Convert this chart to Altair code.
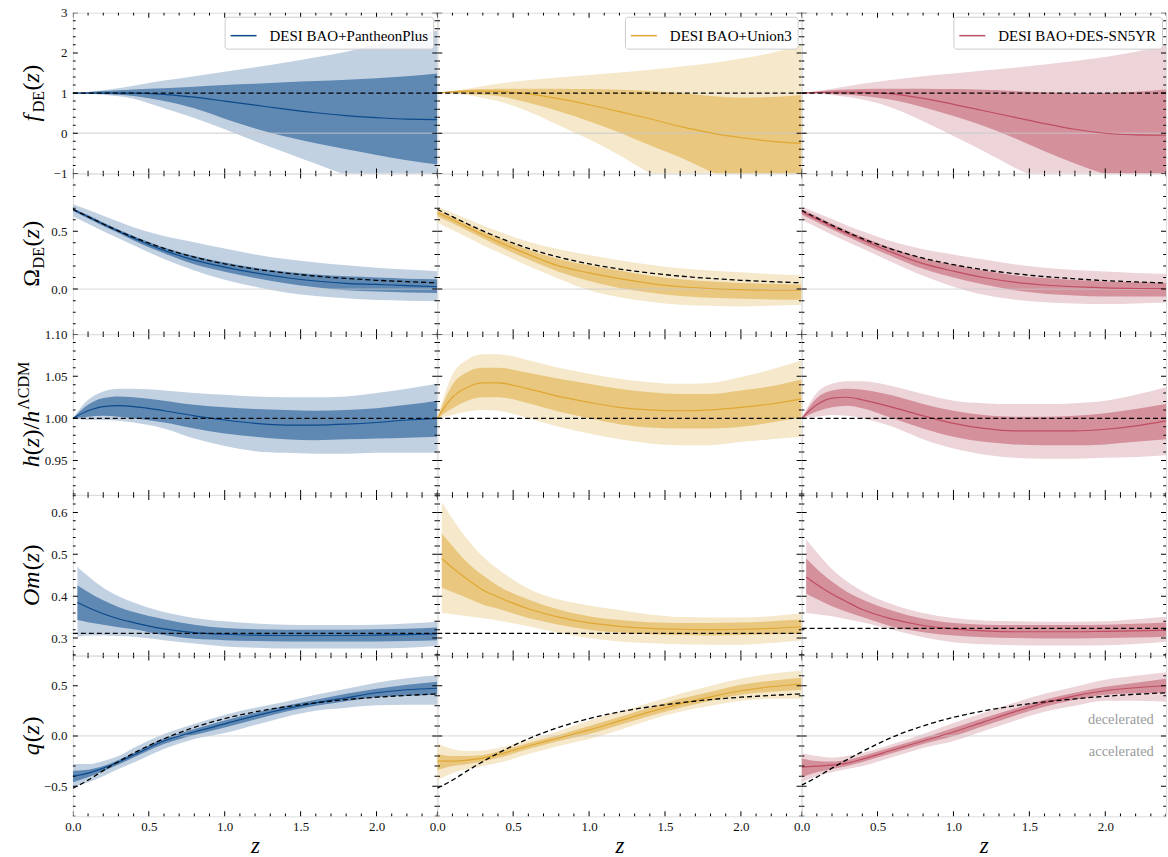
import math
import altair as alt
import pandas as pd

FONT = "Liberation Serif"
W, H = 365, 161

# ---------------- data ----------------
Z = [0.0, 0.1, 0.2, 0.3, 0.4, 0.6, 0.8, 1.0, 1.2, 1.4, 1.6, 1.8, 2.0, 2.2, 2.4]
Z_OM = [0.03, 0.1, 0.2, 0.3, 0.4, 0.6, 0.8, 1.0, 1.2, 1.4, 1.6, 1.8, 2.0, 2.2, 2.4]

DATASETS = ["DESI BAO+PantheonPlus", "DESI BAO+Union3", "DESI BAO+DES-SN5YR"]
LINE_COLORS = ["#0d4a8c", "#e0a733", "#bf4d63"]
DARK_COLORS = ["#5f88b3", "#e9c77e", "#d4909b"]
LIGHT_COLORS = ["#c2d1e2", "#f5e8cb", "#ecd4d9"]

# f_DE(z)
FDE_PP_HI2 = [1.0, 1.03, 1.07, 1.12, 1.18, 1.31, 1.42, 1.53, 1.64, 1.76, 1.89, 2.03, 2.2, 2.37, 2.56]
FDE_PP_HI1 = [1.0, 1.02, 1.05, 1.07, 1.09, 1.12, 1.16, 1.2, 1.23, 1.27, 1.3, 1.33, 1.37, 1.42, 1.49]
FDE_PP_MED = [1.0, 1.0, 1.0, 1.0, 1.0, 0.97, 0.9, 0.8, 0.7, 0.6, 0.51, 0.44, 0.39, 0.35, 0.34]
FDE_PP_LO1 = [1.0, 0.995, 0.98, 0.96, 0.925, 0.8, 0.62, 0.36, 0.12, -0.08, -0.25, -0.4, -0.54, -0.67, -0.78]
FDE_PP_LO2 = [1.0, 0.985, 0.96, 0.92, 0.86, 0.62, 0.38, 0.1, -0.2, -0.48, -0.76, -1.04, -1.3, -1.55, -1.8]

FDE_U3_HI2 = [1.0, 1.05, 1.11, 1.17, 1.23, 1.32, 1.39, 1.45, 1.51, 1.58, 1.66, 1.74, 1.86, 2.0, 2.19]
FDE_U3_HI1 = [1.0, 1.05, 1.08, 1.1, 1.11, 1.11, 1.11, 1.1, 1.08, 1.05, 1.0, 0.93, 0.89, 0.9, 0.95]
FDE_U3_MED = [1.0, 1.03, 1.05, 1.05, 1.04, 0.98, 0.86, 0.71, 0.54, 0.36, 0.17, 0.01, -0.11, -0.2, -0.25]
FDE_U3_LO1 = [1.0, 1.0, 0.98, 0.96, 0.93, 0.76, 0.55, 0.3, 0.02, -0.3, -0.6, -0.95, -1.25, -1.5, -1.75]
FDE_U3_LO2 = [1.0, 0.985, 0.95, 0.88, 0.8, 0.54, 0.2, -0.15, -0.55, -1.0, -1.45, -1.85, -2.2, -2.5, -2.8]

FDE_DES_HI2 = [1.0, 1.05, 1.11, 1.17, 1.23, 1.33, 1.42, 1.49, 1.56, 1.63, 1.71, 1.8, 1.9, 2.03, 2.19]
FDE_DES_HI1 = [1.0, 1.04, 1.07, 1.09, 1.1, 1.11, 1.11, 1.1, 1.08, 1.05, 1.02, 1.0, 1.0, 1.03, 1.09]
FDE_DES_MED = [1.0, 1.01, 1.02, 1.02, 1.02, 0.98, 0.87, 0.72, 0.56, 0.4, 0.24, 0.1, 0.0, -0.04, -0.05]
FDE_DES_LO1 = [1.0, 1.0, 0.98, 0.96, 0.93, 0.83, 0.65, 0.43, 0.18, -0.12, -0.45, -0.75, -1.02, -1.25, -1.45]
FDE_DES_LO2 = [1.0, 0.99, 0.95, 0.9, 0.84, 0.63, 0.3, -0.07, -0.45, -0.85, -1.2, -1.55, -1.9, -2.2, -2.5]

# Omega_DE(z)
ODE_PP_HI2 = [0.735, 0.685, 0.635, 0.585, 0.535, 0.46, 0.405, 0.35, 0.3, 0.26, 0.23, 0.205, 0.185, 0.17, 0.155]
ODE_PP_HI1 = [0.70, 0.64, 0.575, 0.515, 0.46, 0.36, 0.285, 0.23, 0.185, 0.15, 0.125, 0.11, 0.1, 0.09, 0.085]
ODE_PP_MED = [0.69, 0.625, 0.56, 0.5, 0.44, 0.335, 0.25, 0.19, 0.14, 0.1, 0.07, 0.05, 0.04, 0.03, 0.02]
ODE_PP_LO1 = [0.675, 0.61, 0.545, 0.485, 0.42, 0.31, 0.215, 0.15, 0.095, 0.05, 0.015, -0.01, -0.02, -0.03, -0.035]
ODE_PP_LO2 = [0.63, 0.565, 0.5, 0.44, 0.38, 0.26, 0.16, 0.08, 0.02, -0.03, -0.06, -0.08, -0.095, -0.1, -0.105]

ODE_U3_HI2 = [0.715, 0.66, 0.605, 0.55, 0.5, 0.41, 0.345, 0.295, 0.25, 0.21, 0.18, 0.16, 0.145, 0.13, 0.118]
ODE_U3_HI1 = [0.68, 0.625, 0.56, 0.5, 0.445, 0.34, 0.26, 0.205, 0.16, 0.115, 0.085, 0.065, 0.052, 0.045, 0.038]
ODE_U3_MED = [0.66, 0.6, 0.535, 0.47, 0.41, 0.3, 0.2, 0.14, 0.09, 0.05, 0.02, 0.005, -0.005, -0.01, -0.01]
ODE_U3_LO1 = [0.63, 0.57, 0.505, 0.44, 0.375, 0.255, 0.15, 0.07, 0.01, -0.03, -0.06, -0.075, -0.084, -0.09, -0.092]
ODE_U3_LO2 = [0.575, 0.51, 0.445, 0.38, 0.32, 0.2, 0.09, -0.01, -0.07, -0.11, -0.135, -0.145, -0.15, -0.145, -0.136]

ODE_DES_HI2 = [0.715, 0.66, 0.605, 0.55, 0.5, 0.41, 0.345, 0.3, 0.255, 0.215, 0.185, 0.165, 0.153, 0.14, 0.13]
ODE_DES_HI1 = [0.69, 0.63, 0.565, 0.505, 0.45, 0.35, 0.265, 0.21, 0.16, 0.12, 0.095, 0.078, 0.066, 0.058, 0.052]
ODE_DES_MED = [0.67, 0.605, 0.54, 0.48, 0.425, 0.315, 0.22, 0.155, 0.1, 0.06, 0.035, 0.02, 0.01, 0.005, 0.003]
ODE_DES_LO1 = [0.645, 0.58, 0.515, 0.455, 0.395, 0.28, 0.175, 0.1, 0.04, -0.01, -0.04, -0.055, -0.064, -0.065, -0.064]
ODE_DES_LO2 = [0.6, 0.535, 0.47, 0.41, 0.35, 0.23, 0.115, 0.02, -0.05, -0.09, -0.115, -0.125, -0.13, -0.125, -0.116]

LCDM_ODE_A = [0.69, 0.626, 0.563, 0.503, 0.448, 0.352, 0.276, 0.218, 0.173, 0.139, 0.112, 0.092, 0.076, 0.064, 0.054]
LCDM_ODE_B = [0.68, 0.615, 0.552, 0.492, 0.437, 0.342, 0.268, 0.211, 0.167, 0.134, 0.108, 0.089, 0.073, 0.062, 0.052]

# h(z)/h_LCDM
H_PP_HI2 = [1.0, 1.022, 1.032, 1.035, 1.035, 1.033, 1.03, 1.028, 1.026, 1.025, 1.025, 1.026, 1.03, 1.035, 1.041]
H_PP_HI1 = [1.0, 1.016, 1.024, 1.026, 1.025, 1.021, 1.016, 1.013, 1.011, 1.01, 1.009, 1.01, 1.012, 1.016, 1.021]
H_PP_MED = [1.0, 1.009, 1.014, 1.015, 1.014, 1.009, 1.003, 0.998, 0.994, 0.992, 0.992, 0.993, 0.995, 0.998, 1.0]
H_PP_LO1 = [1.0, 1.002, 1.003, 1.002, 1.0, 0.995, 0.988, 0.982, 0.978, 0.975, 0.974, 0.975, 0.976, 0.977, 0.978]
H_PP_LO2 = [1.0, 0.998, 0.998, 0.997, 0.995, 0.988, 0.976, 0.967, 0.961, 0.959, 0.958, 0.958, 0.959, 0.959, 0.959]

H_U3_HI2 = [1.0, 1.052, 1.07, 1.076, 1.076, 1.069, 1.06, 1.053, 1.047, 1.043, 1.041, 1.042, 1.049, 1.058, 1.069]
H_U3_HI1 = [1.0, 1.04, 1.055, 1.06, 1.06, 1.054, 1.047, 1.041, 1.035, 1.031, 1.029, 1.029, 1.033, 1.038, 1.046]
H_U3_MED = [1.0, 1.025, 1.037, 1.042, 1.042, 1.035, 1.026, 1.019, 1.013, 1.01, 1.009, 1.01, 1.013, 1.017, 1.023]
H_U3_LO1 = [1.0, 1.012, 1.021, 1.025, 1.025, 1.018, 1.008, 1.0, 0.993, 0.989, 0.988, 0.988, 0.99, 0.995, 1.001]
H_U3_LO2 = [1.0, 1.004, 1.008, 1.01, 1.009, 1.0, 0.99, 0.982, 0.975, 0.97, 0.968, 0.968, 0.972, 0.975, 0.978]

H_DES_HI2 = [1.0, 1.03, 1.041, 1.044, 1.044, 1.038, 1.029, 1.021, 1.018, 1.017, 1.017, 1.018, 1.021, 1.028, 1.037]
H_DES_HI1 = [1.0, 1.024, 1.033, 1.035, 1.034, 1.027, 1.017, 1.009, 1.004, 1.002, 1.002, 1.003, 1.006, 1.011, 1.017]
H_DES_MED = [1.0, 1.016, 1.024, 1.025, 1.022, 1.013, 1.003, 0.994, 0.988, 0.985, 0.985, 0.985, 0.987, 0.991, 0.997]
H_DES_LO1 = [1.0, 1.008, 1.013, 1.015, 1.012, 1.0, 0.988, 0.978, 0.972, 0.969, 0.968, 0.968, 0.969, 0.972, 0.975]
H_DES_LO2 = [1.0, 1.002, 1.004, 1.003, 1.0, 0.99, 0.975, 0.964, 0.957, 0.953, 0.952, 0.952, 0.953, 0.954, 0.956]

# Om(z)
OM_PP_HI2 = [0.47, 0.448, 0.42, 0.4, 0.385, 0.362, 0.348, 0.34, 0.335, 0.332, 0.331, 0.331, 0.332, 0.335, 0.339]
OM_PP_HI1 = [0.426, 0.41, 0.39, 0.374, 0.362, 0.345, 0.332, 0.324, 0.321, 0.32, 0.32, 0.32, 0.321, 0.322, 0.325]
OM_PP_MED = [0.385, 0.373, 0.358, 0.346, 0.337, 0.322, 0.313, 0.309, 0.307, 0.306, 0.306, 0.306, 0.307, 0.308, 0.31]
OM_PP_LO1 = [0.343, 0.338, 0.332, 0.326, 0.321, 0.307, 0.298, 0.295, 0.293, 0.292, 0.292, 0.292, 0.292, 0.293, 0.295]
OM_PP_LO2 = [0.303, 0.306, 0.306, 0.305, 0.303, 0.295, 0.287, 0.28, 0.277, 0.275, 0.275, 0.275, 0.275, 0.277, 0.281]

OM_U3_HI2 = [0.625, 0.585, 0.535, 0.495, 0.465, 0.418, 0.392, 0.378, 0.367, 0.356, 0.35, 0.349, 0.349, 0.352, 0.359]
OM_U3_HI1 = [0.55, 0.52, 0.48, 0.45, 0.425, 0.392, 0.368, 0.352, 0.343, 0.338, 0.336, 0.336, 0.337, 0.34, 0.344]
OM_U3_MED = [0.49, 0.468, 0.44, 0.415, 0.398, 0.37, 0.35, 0.336, 0.328, 0.323, 0.321, 0.32, 0.321, 0.323, 0.327]
OM_U3_LO1 = [0.42, 0.41, 0.395, 0.38, 0.37, 0.348, 0.332, 0.32, 0.313, 0.309, 0.307, 0.306, 0.307, 0.309, 0.311]
OM_U3_LO2 = [0.36, 0.357, 0.352, 0.347, 0.342, 0.328, 0.312, 0.3, 0.292, 0.288, 0.285, 0.284, 0.284, 0.288, 0.295]

OM_DES_HI2 = [0.535, 0.505, 0.465, 0.435, 0.412, 0.38, 0.36, 0.348, 0.342, 0.34, 0.339, 0.339, 0.34, 0.345, 0.351]
OM_DES_HI1 = [0.49, 0.465, 0.435, 0.41, 0.392, 0.365, 0.346, 0.336, 0.332, 0.331, 0.331, 0.331, 0.332, 0.334, 0.337]
OM_DES_MED = [0.446, 0.428, 0.405, 0.386, 0.368, 0.345, 0.33, 0.322, 0.317, 0.315, 0.315, 0.315, 0.316, 0.317, 0.319]
OM_DES_LO1 = [0.406, 0.393, 0.376, 0.362, 0.35, 0.327, 0.314, 0.306, 0.302, 0.3, 0.299, 0.299, 0.3, 0.301, 0.303]
OM_DES_LO2 = [0.36, 0.357, 0.352, 0.345, 0.338, 0.32, 0.302, 0.29, 0.285, 0.283, 0.282, 0.282, 0.283, 0.286, 0.291]

LCDM_OM = [0.311, 0.311, 0.323]

# q(z)
Q_PP_HI2 = [-0.28, -0.28, -0.25, -0.2, -0.12, 0.02, 0.12, 0.21, 0.28, 0.34, 0.41, 0.47, 0.53, 0.575, 0.605]
Q_PP_HI1 = [-0.345, -0.335, -0.3, -0.24, -0.17, -0.025, 0.07, 0.155, 0.23, 0.3, 0.36, 0.42, 0.47, 0.51, 0.54]
Q_PP_MED = [-0.4, -0.37, -0.32, -0.26, -0.19, -0.05, 0.04, 0.12, 0.2, 0.27, 0.33, 0.38, 0.43, 0.46, 0.475]
Q_PP_LO1 = [-0.46, -0.41, -0.35, -0.285, -0.215, -0.08, 0.01, 0.085, 0.165, 0.24, 0.3, 0.345, 0.385, 0.4, 0.41]
Q_PP_LO2 = [-0.51, -0.46, -0.4, -0.33, -0.265, -0.13, -0.03, 0.03, 0.11, 0.19, 0.25, 0.28, 0.305, 0.31, 0.31]

Q_U3_HI2 = [-0.07, -0.13, -0.15, -0.145, -0.12, -0.04, 0.05, 0.155, 0.24, 0.33, 0.42, 0.5, 0.57, 0.62, 0.65]
Q_U3_HI1 = [-0.18, -0.2, -0.2, -0.19, -0.155, -0.07, 0.01, 0.1, 0.19, 0.28, 0.37, 0.44, 0.51, 0.55, 0.58]
Q_U3_MED = [-0.25, -0.25, -0.24, -0.22, -0.185, -0.1, -0.02, 0.06, 0.15, 0.24, 0.32, 0.39, 0.45, 0.49, 0.52]
Q_U3_LO1 = [-0.34, -0.3, -0.28, -0.255, -0.22, -0.13, -0.05, 0.02, 0.11, 0.2, 0.28, 0.35, 0.41, 0.44, 0.46]
Q_U3_LO2 = [-0.44, -0.37, -0.33, -0.3, -0.27, -0.18, -0.1, -0.03, 0.06, 0.16, 0.24, 0.3, 0.35, 0.37, 0.37]

Q_DES_HI2 = [-0.17, -0.2, -0.215, -0.2, -0.17, -0.08, 0.02, 0.13, 0.23, 0.33, 0.42, 0.49, 0.56, 0.6, 0.635]
Q_DES_HI1 = [-0.225, -0.25, -0.255, -0.24, -0.2, -0.11, -0.02, 0.08, 0.18, 0.27, 0.36, 0.43, 0.49, 0.53, 0.57]
Q_DES_MED = [-0.31, -0.3, -0.29, -0.27, -0.23, -0.14, -0.05, 0.04, 0.14, 0.24, 0.33, 0.4, 0.45, 0.48, 0.5]
Q_DES_LO1 = [-0.41, -0.36, -0.33, -0.3, -0.26, -0.17, -0.08, 0.0, 0.1, 0.2, 0.29, 0.36, 0.41, 0.425, 0.43]
Q_DES_LO2 = [-0.46, -0.4, -0.36, -0.33, -0.3, -0.21, -0.12, -0.05, 0.05, 0.15, 0.24, 0.3, 0.35, 0.35, 0.34]

LCDM_Q_A = [-0.52, -0.44, -0.345, -0.255, -0.172, -0.028, 0.086, 0.173, 0.24, 0.29, 0.33, 0.362, 0.386, 0.404, 0.419]
LCDM_Q_B = [-0.49, -0.41, -0.32, -0.235, -0.155, -0.01, 0.1, 0.185, 0.25, 0.3, 0.34, 0.37, 0.395, 0.415, 0.43]

LCDM_FDE = 1.0
LCDM_H = 1.0

ACCEL_TEXT = ["decelerated", "accelerated"]
ACCEL_Q = [0.155, -0.16]
ACCEL_Z = [2.32, 2.32]

# axis settings per row
ROW_DOMAINS = [[-1.0, 3.0], [-0.39, 1.0], [0.909, 1.10], [0.258, 0.642], [-0.8, 0.8]]
ROW_LABELS = [[-1, 0, 1, 2, 3], [0.0, 0.5], [0.95, 1.0, 1.05, 1.10], [0.3, 0.4, 0.5, 0.6], [-0.5, 0.0, 0.5]]
ROW_FORMATS = ["d", ".1f", ".2f", ".1f", ".1f"]
ROW_TICK_STEPS = [(0.2, 1.0), (0.1, 0.5), (0.01, 0.05), (0.02, 0.1), (0.1, 0.5)]
X_TICK_STEPS = (0.1, 0.5)
X_LABELS = [0.0, 0.5, 1.0, 1.5, 2.0]

SERIES = {
    (0, 0): (FDE_PP_LO2, FDE_PP_LO1, FDE_PP_MED, FDE_PP_HI1, FDE_PP_HI2),
    (0, 1): (FDE_U3_LO2, FDE_U3_LO1, FDE_U3_MED, FDE_U3_HI1, FDE_U3_HI2),
    (0, 2): (FDE_DES_LO2, FDE_DES_LO1, FDE_DES_MED, FDE_DES_HI1, FDE_DES_HI2),
    (1, 0): (ODE_PP_LO2, ODE_PP_LO1, ODE_PP_MED, ODE_PP_HI1, ODE_PP_HI2),
    (1, 1): (ODE_U3_LO2, ODE_U3_LO1, ODE_U3_MED, ODE_U3_HI1, ODE_U3_HI2),
    (1, 2): (ODE_DES_LO2, ODE_DES_LO1, ODE_DES_MED, ODE_DES_HI1, ODE_DES_HI2),
    (2, 0): (H_PP_LO2, H_PP_LO1, H_PP_MED, H_PP_HI1, H_PP_HI2),
    (2, 1): (H_U3_LO2, H_U3_LO1, H_U3_MED, H_U3_HI1, H_U3_HI2),
    (2, 2): (H_DES_LO2, H_DES_LO1, H_DES_MED, H_DES_HI1, H_DES_HI2),
    (3, 0): (OM_PP_LO2, OM_PP_LO1, OM_PP_MED, OM_PP_HI1, OM_PP_HI2),
    (3, 1): (OM_U3_LO2, OM_U3_LO1, OM_U3_MED, OM_U3_HI1, OM_U3_HI2),
    (3, 2): (OM_DES_LO2, OM_DES_LO1, OM_DES_MED, OM_DES_HI1, OM_DES_HI2),
    (4, 0): (Q_PP_LO2, Q_PP_LO1, Q_PP_MED, Q_PP_HI1, Q_PP_HI2),
    (4, 1): (Q_U3_LO2, Q_U3_LO1, Q_U3_MED, Q_U3_HI1, Q_U3_HI2),
    (4, 2): (Q_DES_LO2, Q_DES_LO1, Q_DES_MED, Q_DES_HI1, Q_DES_HI2),
}

# y-axis title pieces: (text, size, style, dy, gap_after)
TITLES = [
    [("f", 24, "italic", 0, 2.5), ("DE", 16, "normal", 5, 0.5), ("(", 24, "normal", 0, 0),
     ("z", 24, "italic", 0, 0.5), (")", 24, "normal", 0, 0)],
    [("Ω", 24, "normal", 0, 0), ("DE", 16, "normal", 5, 0.5), ("(", 24, "normal", 0, 0),
     ("z", 24, "italic", 0, 0.5), (")", 24, "normal", 0, 0)],
    [("h", 24, "italic", 0, 0), ("(", 24, "normal", 0, 0), ("z", 24, "italic", 0, 0.5),
     (")", 24, "normal", 0, 0), ("/", 24, "normal", 0, 0), ("h", 24, "italic", 0, 1),
     ("ΛCDM", 16, "normal", -10, 0)],
    [("Om", 24, "italic", 0, 1), ("(", 24, "normal", 0, 0), ("z", 24, "italic", 0, 0.5),
     (")", 24, "normal", 0, 0)],
    [("q", 24, "italic", 0, 1), ("(", 24, "normal", 0, 0), ("z", 24, "italic", 0, 0.5),
     (")", 24, "normal", 0, 0)],
]
CHAR_W = {"f": 0.278, "z": 0.389, "O": 0.722, "m": 0.722, "q": 0.5, "h": 0.5, "(": 0.333,
          ")": 0.333, "/": 0.278, "D": 0.722, "E": 0.611, "C": 0.667, "M": 0.889,
          "Ω": 0.768, "Λ": 0.722}


def tick_frame(lo, hi, step, major):
    vals, sizes = [], []
    n0 = math.ceil(lo / step - 1e-9)
    n1 = math.floor(hi / step + 1e-9)
    for n in range(n0, n1 + 1):
        v = round(n * step, 6)
        is_major = abs(v / major - round(v / major)) < 1e-6
        vals.append(v)
        sizes.append(10 if is_major else 5.5)
    return pd.DataFrame({"v": vals, "s": sizes})


def panel(r, c):
    zs = Z_OM if r == 3 else Z
    lo2, lo1, med, hi1, hi2 = SERIES[(r, c)]
    df = pd.DataFrame({"z": zs, "lo2": lo2, "lo1": lo1, "med": med, "hi1": hi1,
                       "hi2": hi2, "lab": DATASETS[c]})
    if r == 1:
        df["lcdm"] = LCDM_ODE_B if c == 2 else LCDM_ODE_A
    if r == 4:
        df["lcdm"] = LCDM_Q_B if c == 2 else LCDM_Q_A

    xscale = alt.Scale(domain=[0.0, 2.4], nice=False, zero=False)
    yscale = alt.Scale(domain=ROW_DOMAINS[r], nice=False, zero=False)

    if r == 4:
        xaxis = alt.Axis(values=X_LABELS, format=".1f", title="z", ticks=False, domain=False,
                         grid=False, labelFlush=False, labelOverlap=False, labelPadding=4,
                         labelFont=FONT, labelFontSize=13, labelColor="#111111",
                         titleFont=FONT, titleFontSize=23, titleFontStyle="italic",
                         titleFontWeight="normal", titleColor="black", titlePadding=1)
    else:
        xaxis = None
    if c == 0:
        yaxis = alt.Axis(values=ROW_LABELS[r], format=ROW_FORMATS[r], title=None, ticks=False,
                         domain=False, grid=False, labelFlush=False, labelOverlap=False,
                         labelPadding=6, labelFont=FONT, labelFontSize=13, labelColor="#111111")
    else:
        yaxis = None

    X = alt.X("z:Q", scale=xscale, axis=xaxis)
    base = alt.Chart(df)
    layers = []
    layers.append(base.mark_area(color=LIGHT_COLORS[c], interpolate="monotone", clip=True).encode(
        x=X, y=alt.Y("lo2:Q", scale=yscale, axis=yaxis), y2="hi2:Q"))
    layers.append(base.mark_area(color=DARK_COLORS[c], interpolate="monotone", clip=True).encode(
        x=X, y=alt.Y("lo1:Q", scale=yscale, axis=yaxis), y2="hi1:Q"))
    if r in (0, 1, 4):
        layers.append(alt.Chart(pd.DataFrame({"v": [0.0]})).mark_rule(
            color="#c8c8c8", opacity=0.6, strokeWidth=1.3).encode(
            y=alt.Y("v:Q", scale=yscale, axis=yaxis)))
    if r == 0:
        color = alt.Color("lab:N", scale=alt.Scale(domain=[DATASETS[c]], range=[LINE_COLORS[c]]),
                          legend=alt.Legend(orient="top-right", title=None, offset=4, padding=5,
                                            fillColor="rgba(255,255,255,0.85)", strokeColor="#cccccc",
                                            cornerRadius=3, symbolType="stroke", symbolStrokeWidth=1.5,
                                            symbolSize=676, labelFont=FONT, labelFontSize=15,
                                            labelColor="black", labelOffset=12, labelLimit=400))
    else:
        color = alt.value(LINE_COLORS[c])
    layers.append(base.mark_line(strokeWidth=1.2, interpolate="monotone", clip=True).encode(
        x=X, y=alt.Y("med:Q", scale=yscale, axis=yaxis), color=color))
    dash = dict(color="black", strokeDash=[5, 3], strokeWidth=1.3)
    if r in (1, 4):
        layers.append(base.mark_line(interpolate="monotone", clip=True, **dash).encode(
            x=X, y=alt.Y("lcdm:Q", scale=yscale, axis=yaxis)))
    else:
        cval = {0: LCDM_FDE, 2: LCDM_H, 3: LCDM_OM[c]}[r]
        layers.append(alt.Chart(pd.DataFrame({"v": [cval]})).mark_rule(**dash).encode(
            y=alt.Y("v:Q", scale=yscale, axis=yaxis)))

    # inward ticks on all four sides
    ydf = tick_frame(ROW_DOMAINS[r][0], ROW_DOMAINS[r][1], *ROW_TICK_STEPS[r])
    xdf = tick_frame(0.0, 2.4, *X_TICK_STEPS)
    for xpos in (0, W):
        layers.append(alt.Chart(ydf).mark_tick(orient="horizontal", clip=True, thickness=1,
                                               color="black", opacity=1).encode(
            y=alt.Y("v:Q", scale=yscale, axis=yaxis), x=alt.value(xpos),
            size=alt.Size("s:Q", scale=None, legend=None)))
    for ypos in (0, H):
        layers.append(alt.Chart(xdf).mark_tick(orient="vertical", clip=True, thickness=1,
                                               color="black", opacity=1).encode(
            x=alt.X("v:Q", scale=xscale, axis=xaxis), y=alt.value(ypos),
            size=alt.Size("s:Q", scale=None, legend=None)))

    if c == 0:
        pieces = TITLES[r]
        widths = [sum(CHAR_W.get(ch, 0.5) for ch in t) * s + g for (t, s, st, dy, g) in pieces]
        total = sum(widths)
        pos = -total / 2
        for (t, s, st, dy, g), w in zip(pieces, widths):
            layers.append(alt.Chart(pd.DataFrame({"t": [t]})).mark_text(
                angle=270, align="left", baseline="alphabetic", dx=pos, dy=dy, font=FONT,
                fontSize=s, fontStyle=st, color="black").encode(
                x=alt.value(-34), y=alt.value(H / 2), text="t:N"))
            pos += w

    if r == 4 and c == 2:
        adf = pd.DataFrame({"z": ACCEL_Z, "q": ACCEL_Q, "t": ACCEL_TEXT})
        layers.append(alt.Chart(adf).mark_text(align="right", baseline="middle", font=FONT,
                                               fontSize=14.5, color="#9b9b9b").encode(
            x=X, y=alt.Y("q:Q", scale=yscale, axis=yaxis), text="t:N"))

    return alt.layer(*layers).properties(width=W, height=H)


panels = [panel(r, c) for r in range(5) for c in range(3)]

chart = alt.concat(*panels, columns=3, spacing=0, bounds="flush").resolve_scale(
    color="independent"
).properties(
    padding={"left": 15, "top": 5, "right": 0, "bottom": 0}
).configure_view(stroke="black", strokeWidth=1.2).configure_axis(
    labelFont=FONT, titleFont=FONT
).configure(background="white")

chart.save("out.html", embed_options={"renderer": "svg", "actions": False})
